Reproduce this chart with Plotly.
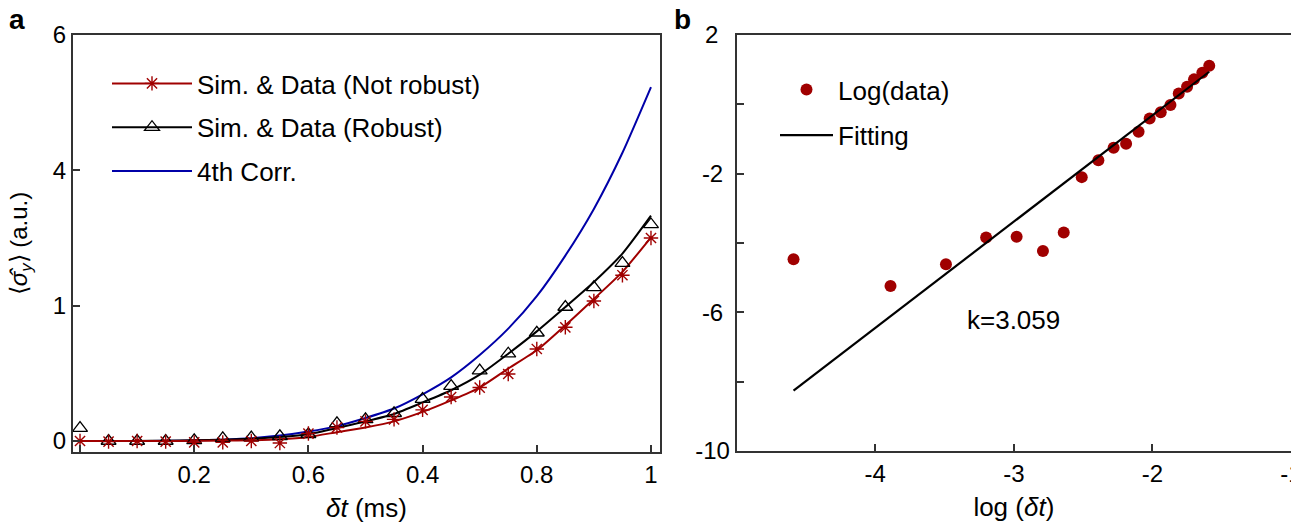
import plotly.graph_objects as go

# ---------------- data ----------------
dt = [0.00, 0.05, 0.10, 0.15, 0.20, 0.25, 0.30, 0.35, 0.40, 0.45, 0.50,
      0.55, 0.60, 0.65, 0.70, 0.75, 0.80, 0.85, 0.90, 0.95, 1.00]
sim_not_robust = [0.0, 0.0, 0.0, 0.0, 0.003, 0.007, 0.012, 0.025, 0.06, 0.13, 0.20,
                  0.29, 0.43, 0.60, 0.79, 1.07, 1.34, 1.71, 2.10, 2.50, 3.01]
data_not_robust = [0.0, -0.01, 0.0, -0.01, -0.02, -0.02, 0.0, -0.03, 0.11, 0.20, 0.29,
                   0.32, 0.46, 0.65, 0.79, 0.99, 1.36, 1.68, 2.07, 2.45, 3.00]
sim_robust = [0.0, 0.0, 0.0, 0.005, 0.01, 0.02, 0.035, 0.06, 0.10, 0.19, 0.29,
              0.40, 0.57, 0.75, 0.98, 1.29, 1.62, 1.98, 2.35, 2.77, 3.33]
data_robust = [0.19, 0.0, 0.0, 0.0, 0.01, 0.04, 0.05, 0.07, 0.10, 0.26, 0.32,
               0.41, 0.62, 0.81, 1.04, 1.29, 1.60, 1.98, 2.27, 2.63, 3.20]
corr4 = [0.0, 0.0, 0.0, 0.003, 0.008, 0.02, 0.04, 0.08, 0.14, 0.22, 0.34,
         0.48, 0.69, 0.94, 1.27, 1.66, 2.14, 2.74, 3.43, 4.26, 5.23]

a_xticks = [0.2, 0.4, 0.6, 0.8, 1.0]
a_xticktext = ["0.2", "0.6", "0.4", "0.8", "1"]
a_xminor = [0.0]
a_yticks = [0, 2, 4, 6]
a_yticktext = ["0", "1", "4", "6"]

log_dt = [-4.59, -3.89, -3.49, -3.20, -2.98, -2.79, -2.64, -2.51, -2.39, -2.28,
          -2.19, -2.10, -2.02, -1.94, -1.87, -1.81, -1.75, -1.70, -1.64, -1.59]
log_data = [-4.47, -5.24, -4.61, -3.84, -3.82, -4.23, -3.70, -2.10, -1.61, -1.25,
            -1.14, -0.79, -0.41, -0.23, -0.02, 0.31, 0.51, 0.72, 0.91, 1.11]
fit_x = [-4.59, -1.59]
fit_y = [-8.26, 0.94]
slope_label = "k=3.059"

b_xticks = [-4, -3, -2, -1]
b_xticktext = ["-4", "-3", "-2", "-1"]
b_yticks = [2, -2, -6, -10]
b_yticktext = ["2\u00a0\u2009", "-2\u00a0", "-6\u00a0", "-10"]
b_yminor = [0, -4, -8]

# ---------------- style ----------------
W, H = 1291, 523
FONT = "Liberation Sans, Arial, Helvetica, sans-serif"
RED = "#a00000"
BLUE = "#0000a8"
BLACK = "#000000"
AX = "#333333"

fig = go.Figure()

# panel a : curves
fig.add_trace(go.Scatter(x=dt, y=corr4, mode="lines", xaxis="x", yaxis="y",
                         line=dict(color=BLUE, width=2, shape="spline", smoothing=0.6),
                         showlegend=False))
fig.add_trace(go.Scatter(x=dt, y=sim_robust, mode="lines", xaxis="x", yaxis="y",
                         line=dict(color=BLACK, width=2, shape="spline", smoothing=0.6),
                         showlegend=False))
fig.add_trace(go.Scatter(x=dt, y=sim_not_robust, mode="lines", xaxis="x", yaxis="y",
                         line=dict(color=RED, width=2, shape="spline", smoothing=0.6),
                         showlegend=False))
# panel a : data markers
fig.add_trace(go.Scatter(x=dt, y=data_robust, mode="markers", xaxis="x", yaxis="y",
                         marker=dict(symbol="triangle-up-open", size=13, color=BLACK,
                                     line=dict(color=BLACK, width=1.3)),
                         showlegend=False))
fig.add_trace(go.Scatter(x=dt, y=data_not_robust, mode="markers", xaxis="x", yaxis="y",
                         marker=dict(symbol="asterisk-open", size=12, color=RED,
                                     line=dict(color=RED, width=1.4)),
                         showlegend=False))

# panel a : legend entries
fig.add_trace(go.Scatter(x=[None], y=[None], mode="lines+markers", xaxis="x", yaxis="y",
                         name="Sim. & Data (Not robust)", legend="legend", legendgroup="g1",
                         line=dict(color=RED, width=2),
                         marker=dict(symbol="asterisk-open", size=12, color=RED,
                                     line=dict(color=RED, width=1.4))))
fig.add_trace(go.Scatter(x=[None], y=[None], mode="lines+markers", xaxis="x", yaxis="y",
                         name="Sim. & Data (Robust)", legend="legend", legendgroup="g2",
                         line=dict(color=BLACK, width=2),
                         marker=dict(symbol="triangle-up-open", size=13, color=BLACK,
                                     line=dict(color=BLACK, width=1.3))))
fig.add_trace(go.Scatter(x=[None], y=[None], mode="lines", xaxis="x", yaxis="y",
                         name="4th Corr.", legend="legend", legendgroup="g3",
                         line=dict(color=BLUE, width=2)))

# panel b
fig.add_trace(go.Scatter(x=log_dt, y=log_data, mode="markers", xaxis="x2", yaxis="y2",
                         name="Log(data)", legend="legend2", legendgroup="h1",
                         marker=dict(symbol="circle", size=12, color=RED)))
fig.add_trace(go.Scatter(x=fit_x, y=fit_y, mode="lines", xaxis="x2", yaxis="y2",
                         name="Fitting", legend="legend2", legendgroup="h2",
                         line=dict(color=BLACK, width=2.2)))

axis_common = dict(showline=True, linecolor=AX, linewidth=2, mirror=True,
                   ticks="inside", ticklen=7, tickwidth=1.5, tickcolor=AX,
                   showgrid=False, zeroline=False, automargin=False,
                   ticklabeloverflow="allow",
                   tickfont=dict(family=FONT, size=24, color="black"))
minor_common = dict(ticks="inside", ticklen=7, tickwidth=1.5, tickcolor=AX, showgrid=False)

fig.update_layout(
    width=W, height=H,
    template="none",
    paper_bgcolor="white", plot_bgcolor="white",
    margin=dict(l=0, r=0, t=0, b=0, autoexpand=False),
    font=dict(family=FONT, size=24, color="black"),
    xaxis=dict(domain=[73 / W, 660 / W], range=[-0.0123, 1.0158], anchor="y",
               tickmode="array", tickvals=a_xticks, ticktext=a_xticktext,
               minor=dict(tickvals=a_xminor, **minor_common),
               title=dict(text="<i>δt</i> (ms)", font=dict(size=26), standoff=12),
               **axis_common),
    yaxis=dict(domain=[1 - 452 / H, 1 - 35 / H], range=[-0.1626, 6.0], anchor="x",
               tickmode="array", tickvals=a_yticks, ticktext=a_yticktext,
               title=dict(text="⟨<i>σ̂</i><sub><i>y</i></sub>⟩ (a.u.)", font=dict(size=24), standoff=18),
               **axis_common),
    xaxis2=dict(domain=[736.7 / W, 1.0], range=[-5, -1], anchor="y2",
                tickmode="array", tickvals=b_xticks, ticktext=b_xticktext,
                title=dict(text="log (<i>δt</i>)", font=dict(size=26), standoff=12),
                **axis_common),
    yaxis2=dict(domain=[1 - 451 / H, 1 - 35 / H], range=[-10, 2], anchor="x2",
                tickmode="array", tickvals=b_yticks, ticktext=b_yticktext,
                minor=dict(tickvals=b_yminor, **minor_common),
                **axis_common),
    legend=dict(x=107 / W, y=1 - 60 / H, xanchor="left", yanchor="top",
                bgcolor="rgba(0,0,0,0)", borderwidth=0, itemwidth=80,
                traceorder="grouped", tracegroupgap=7,
                font=dict(family=FONT, size=26, color="black")),
    legend2=dict(x=775 / W, y=1 - 66 / H, xanchor="left", yanchor="top",
                 bgcolor="rgba(0,0,0,0)", borderwidth=0, itemwidth=53,
                 traceorder="grouped", tracegroupgap=9,
                 font=dict(family=FONT, size=26, color="black")),
    annotations=[
        dict(text="<b>a</b>", xref="paper", yref="paper", x=17 / W, y=1 - 2 / H,
             xanchor="center", yanchor="top", showarrow=False,
             font=dict(family=FONT, size=28, color="black")),
        dict(text="<b>b</b>", xref="paper", yref="paper", x=682 / W, y=1 - 2 / H,
             xanchor="center", yanchor="top", showarrow=False,
             font=dict(family=FONT, size=28, color="black")),
        dict(text=slope_label, xref="x2", yref="y2", x=-3.0, y=-6.22,
             xanchor="center", yanchor="middle", showarrow=False,
             font=dict(family=FONT, size=26, color="black")),
    ],
)

fig.write_html("out.html")
